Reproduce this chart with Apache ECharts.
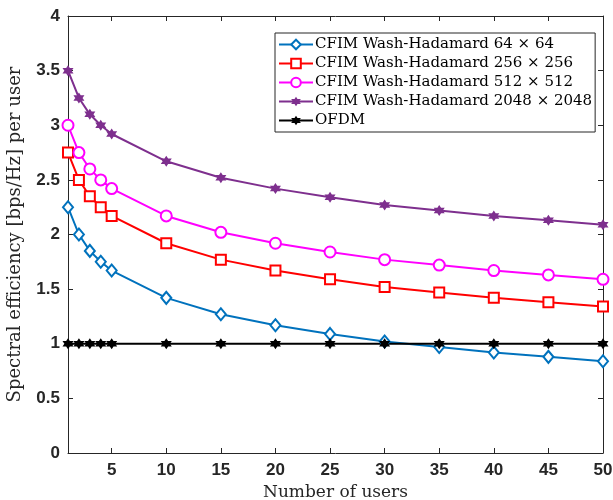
<!DOCTYPE html>
<html>
<head>
<meta charset="utf-8">
<script src="https://cdn.jsdelivr.net/npm/echarts@6/dist/echarts.min.js"></script>
<style>
html,body{margin:0;padding:0;background:#fff;}
#main{width:613px;height:500px;}
</style>
</head>
<body>
<div id="main"></div>
<script>
var users = [1, 2, 3, 4, 5, 10, 15, 20, 25, 30, 35, 40, 45, 50];
var wh64 = [2.25, 2.0, 1.85, 1.75, 1.67, 1.42, 1.27, 1.17, 1.09, 1.02, 0.97, 0.92, 0.88, 0.84];
var wh256 = [2.75, 2.5, 2.35, 2.25, 2.17, 1.92, 1.77, 1.67, 1.59, 1.52, 1.47, 1.42, 1.38, 1.34];
var wh512 = [3.0, 2.75, 2.6, 2.5, 2.42, 2.17, 2.02, 1.92, 1.84, 1.77, 1.72, 1.67, 1.63, 1.59];
var wh2048 = [3.5, 3.25, 3.1, 3.0, 2.92, 2.67, 2.52, 2.42, 2.34, 2.27, 2.22, 2.17, 2.13, 2.09];
var ofdm = [1, 1, 1, 1, 1, 1, 1, 1, 1, 1, 1, 1, 1, 1];
var xTicks = [5, 10, 15, 20, 25, 30, 35, 40, 45, 50];
var seriesNames = [
  'CFIM Wash-Hadamard 64 \u00d7 64',
  'CFIM Wash-Hadamard 256 \u00d7 256',
  'CFIM Wash-Hadamard 512 \u00d7 512',
  'CFIM Wash-Hadamard 2048 \u00d7 2048',
  'OFDM'
];

function pairs(ys) { return users.map(function (u, i) { return [u, ys[i]]; }); }

var hexagram = 'path://M0,-10 L8.66,5 L-8.66,5 Z M0,10 L-8.66,-5 L8.66,-5 Z';
var axisColor = '#262626';
var labelFont = { fontFamily: 'Liberation Sans, Arial, sans-serif', fontWeight: 'bold', fontSize: 17, color: axisColor };
var serif = 'DejaVu Serif, serif';

function mk(name, data, color, symbol, size, empty) {
  return {
    name: name, type: 'line', data: pairs(data),
    symbol: symbol, symbolSize: size, showSymbol: true,
    lineStyle: { color: color, width: 2 },
    itemStyle: empty ? { color: color, borderColor: color, borderWidth: 2 } : { color: color, borderColor: color, borderWidth: 0 },
    color: color,
    z: 3
  };
}

var chart = echarts.init(document.getElementById('main'), null, { renderer: 'canvas' });
chart.setOption({
  animation: false,
  backgroundColor: '#fff',
  grid: { left: 68, right: 10, top: 16, bottom: 47, show: false, containLabel: false, outerBoundsMode: 'none' },
  legend: {
    orient: 'vertical', left: 275, top: 33,
    padding: [3, 3, 3, 3],
    itemWidth: 34, itemHeight: 12, itemGap: 2,
    borderColor: '#262626', borderWidth: 1, backgroundColor: '#fff',
    textStyle: { fontFamily: serif, fontSize: 15, lineHeight: 17, color: '#000', padding: [0, 0, 0, -3] },
    data: seriesNames
  },
  xAxis: [{
    type: 'value', min: 1, max: 50, position: 'bottom',
    name: 'Number of users', nameLocation: 'middle', nameGap: 30,
    nameTextStyle: { fontFamily: serif, fontSize: 17, color: axisColor },
    axisLine: { lineStyle: { color: axisColor, width: 1 } },
    axisTick: { inside: true, length: 5, customValues: xTicks, lineStyle: { color: axisColor } },
    axisLabel: Object.assign({ customValues: xTicks, margin: 9 }, labelFont),
    splitLine: { show: false }
  }, {
    type: 'value', min: 1, max: 50, position: 'top',
    axisLine: { show: true, onZero: false, lineStyle: { color: axisColor, width: 1 } },
    axisTick: { inside: true, length: 5, customValues: xTicks, lineStyle: { color: axisColor } },
    axisLabel: { show: false },
    splitLine: { show: false }
  }],
  yAxis: [{
    type: 'value', min: 0, max: 4, interval: 0.5, position: 'left',
    name: 'Spectral efficiency [bps/Hz] per user', nameLocation: 'middle', nameGap: 44,
    nameTextStyle: { fontFamily: serif, fontSize: 18, color: axisColor },
    axisLine: { show: true, lineStyle: { color: axisColor, width: 1 } },
    axisTick: { show: true, inside: true, length: 5, lineStyle: { color: axisColor } },
    axisLabel: Object.assign({ margin: 8 }, labelFont),
    splitLine: { show: false }
  }, {
    type: 'value', min: 0, max: 4, interval: 0.5, position: 'right',
    axisLine: { show: true, onZero: false, lineStyle: { color: axisColor, width: 1 } },
    axisTick: { show: true, inside: true, length: 5, lineStyle: { color: axisColor } },
    axisLabel: { show: false },
    splitLine: { show: false }
  }],
  series: [
    mk(seriesNames[0], wh64, '#0072BD', 'emptyDiamond', [10, 12], true),
    mk(seriesNames[1], wh256, '#FF0000', 'emptyRect', 10, true),
    mk(seriesNames[2], wh512, '#FF00FF', 'emptyCircle', 11, true),
    mk(seriesNames[3], wh2048, '#7E2F8E', hexagram, 11, false),
    mk(seriesNames[4], ofdm, '#000000', hexagram, 11, false)
  ]
});
</script>
</body>
</html>
